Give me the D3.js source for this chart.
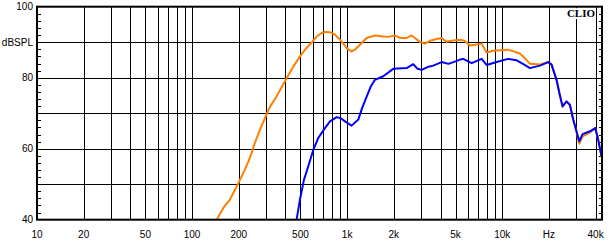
<!DOCTYPE html>
<html lang="en">
<head>
    <meta charset="UTF-8">
    <title>Frequency response</title>
    <script src="https://d3js.org/d3.v7.min.js"></script>
    <style>
        body { margin: 0; background: #fff; }
        text {
            font-family: "Liberation Sans", Arial, sans-serif;
            font-size: 10px;
            fill: #000;
        }
        .grid { stroke: #000; stroke-width: 1px; shape-rendering: crispEdges; }
        .curve { fill: none; stroke-width: 2px; stroke-linejoin: round; }
    </style>
</head>
<body>
    <div id="chart"></div>
    <script>
        // measured curves (Hz, dB SPL)
        const orangeHz = [145, 159, 175, 199, 219, 236, 254, 274, 295, 315, 348, 397, 445, 496, 545, 590, 636, 685, 719, 775, 830, 877, 944, 1000, 1069, 1130, 1210, 1336, 1511, 1710, 1841, 2033, 2190, 2420, 2605, 2737, 2946, 3175, 3418, 3777, 4066, 4383, 4831, 5336, 5700, 6193, 6700, 7365, 7930, 8750, 10900, 13000, 14000, 15100, 17500, 19800, 20800, 22400, 23500, 24500, 26000, 27300, 28700, 29900, 31400, 33000, 36800, 39800, 41600, 43700];
        const orangeDb = [40.2, 43.3, 45.6, 50.3, 54.1, 57.4, 61.6, 65.4, 68.6, 71.5, 74.5, 79.0, 82.8, 86.0, 88.3, 89.9, 91.6, 92.6, 92.9, 92.8, 92.2, 91.2, 89.6, 88.2, 87.4, 88.0, 89.3, 91.2, 91.9, 91.6, 91.5, 91.9, 91.2, 91.2, 91.9, 91.2, 90.1, 89.6, 90.4, 90.9, 91.2, 90.1, 90.5, 90.7, 90.4, 89.1, 89.3, 89.6, 87.1, 87.6, 87.9, 86.8, 85.5, 83.9, 83.7, 84.4, 83.7, 79.4, 75.2, 71.9, 73.3, 72.4, 68.2, 65.4, 61.4, 63.5, 64.6, 65.8, 62.5, 57.8];

        const blueHz = [472, 496, 527, 561, 605, 651, 719, 775, 856, 910, 968, 1069, 1180, 1250, 1336, 1420, 1511, 1710, 1983, 2420, 2668, 2850, 3022, 3300, 3590, 4066, 4500, 5000, 5350, 5607, 6351, 7365, 7930, 8976, 10900, 12400, 13700, 15100, 17500, 19800, 20800, 22400, 23500, 24500, 26000, 27300, 28700, 29900, 31400, 33000, 36800, 39800, 41600, 43700];
        const blueDb = [40.0, 45.6, 51.3, 55.0, 59.7, 63.0, 65.8, 67.7, 68.9, 68.6, 67.7, 66.5, 68.2, 71.5, 74.7, 77.5, 79.4, 80.4, 82.5, 82.7, 83.8, 82.5, 82.2, 83.0, 83.4, 84.4, 83.9, 84.6, 85.1, 85.3, 84.1, 85.3, 83.6, 84.3, 85.3, 84.9, 83.8, 82.7, 83.4, 84.4, 83.7, 79.4, 75.2, 71.9, 73.3, 72.4, 68.2, 65.4, 62.1, 64.1, 64.9, 65.8, 62.5, 57.8];

        // axes
        const xGridHz = [20, 30, 40, 50, 60, 70, 80, 90, 100, 200, 300, 400, 500, 600, 700, 800, 900,
                         1000, 2000, 3000, 4000, 5000, 6000, 7000, 8000, 9000, 10000, 20000, 30000, 40000];
        const xTickHz = [10, 20, 50, 100, 200, 500, 1000, 2000, 5000, 10000, 20000, 40000];
        const xTickText = ["10", "20", "50", "100", "200", "500", "1k", "2k", "5k", "10k", "Hz", "40k"];
        const yGridDb = [50, 60, 70, 80, 90];
        const yTickDb = [100, 80, 60, 40];

        const width = 615, height = 251;
        const plotL = 37, plotR = 602, plotT = 6.7, plotB = 219.7;

        const svg = d3.select("#chart").append("svg")
            .attr("width", width)
            .attr("height", height);

        const x = d3.scaleLog().domain([10, 44000]).range([plotL, plotR]);
        const y = d3.scaleLinear().domain([40, 100]).range([plotB, plotT]);
        const px = v => Math.round(v) + 0.5;

        // grid
        svg.append("g").selectAll("line")
            .data(xGridHz)
            .enter().append("line")
            .attr("class", "grid")
            .attr("x1", d => px(x(d))).attr("x2", d => px(x(d)))
            .attr("y1", plotT).attr("y2", plotB);

        svg.append("g").selectAll("line")
            .data(yGridDb)
            .enter().append("line")
            .attr("class", "grid")
            .attr("x1", plotL).attr("x2", plotR)
            .attr("y1", d => px(y(d))).attr("y2", d => px(y(d)));

        // small ticks every 2 dB on both sides
        const minor = d3.range(42, 100, 2).filter(d => d % 10 !== 0);
        svg.append("g").selectAll("line")
            .data(minor)
            .enter().append("line")
            .attr("class", "grid")
            .attr("x1", plotL).attr("x2", plotL + 4)
            .attr("y1", d => px(y(d))).attr("y2", d => px(y(d)));
        svg.append("g").selectAll("line")
            .data(minor)
            .enter().append("line")
            .attr("class", "grid")
            .attr("x1", plotR - 3).attr("x2", plotR)
            .attr("y1", d => px(y(d))).attr("y2", d => px(y(d)));

        // curves
        svg.append("clipPath").attr("id", "plot")
            .append("rect")
            .attr("x", plotL).attr("y", plotT)
            .attr("width", plotR - plotL).attr("height", plotB - plotT);

        const line = d3.line()
            .x(d => x(d[0]))
            .y(d => y(d[1]));

        const curves = [
            { color: "#ff8000", pts: d3.zip(orangeHz, orangeDb) },
            { color: "#0000ff", pts: d3.zip(blueHz, blueDb) }
        ];

        svg.append("g").attr("clip-path", "url(#plot)")
            .selectAll("path")
            .data(curves)
            .enter().append("path")
            .attr("class", "curve")
            .attr("stroke", d => d.color)
            .attr("d", d => line(d.pts));

        // frame
        svg.append("rect")
            .attr("x", plotL).attr("y", plotT)
            .attr("width", plotR - plotL).attr("height", plotB - plotT)
            .attr("fill", "none")
            .attr("stroke", "#000")
            .attr("stroke-width", 2);

        // labels
        svg.append("g").selectAll("text")
            .data(yTickDb)
            .enter().append("text")
            .attr("x", 33)
            .attr("y", d => y(d) + 3.6)
            .attr("text-anchor", "end")
            .text(d => d);

        svg.append("text")
            .attr("x", 33)
            .attr("y", y(90) + 3.6)
            .attr("text-anchor", "end")
            .text("dBSPL");

        svg.append("g").selectAll("text")
            .data(xTickHz)
            .enter().append("text")
            .attr("x", d => x(d))
            .attr("y", 237.5)
            .attr("text-anchor", "middle")
            .text((d, i) => xTickText[i]);

        // CLIO mark on a white patch
        const clioBox = svg.append("rect").attr("fill", "#fff");
        const clio = svg.append("text")
            .attr("x", 595)
            .attr("y", 17)
            .attr("text-anchor", "end")
            .style("font-family", "'Liberation Serif', 'Times New Roman', serif")
            .style("font-size", "11px")
            .style("font-weight", "bold")
            .text("CLIO");
        const bb = clio.node().getBBox();
        clioBox.attr("x", bb.x - 1).attr("y", plotT + 1.5)
            .attr("width", bb.width + 1).attr("height", 17 + 2 - plotT - 1.5);
    </script>
</body>
</html>
